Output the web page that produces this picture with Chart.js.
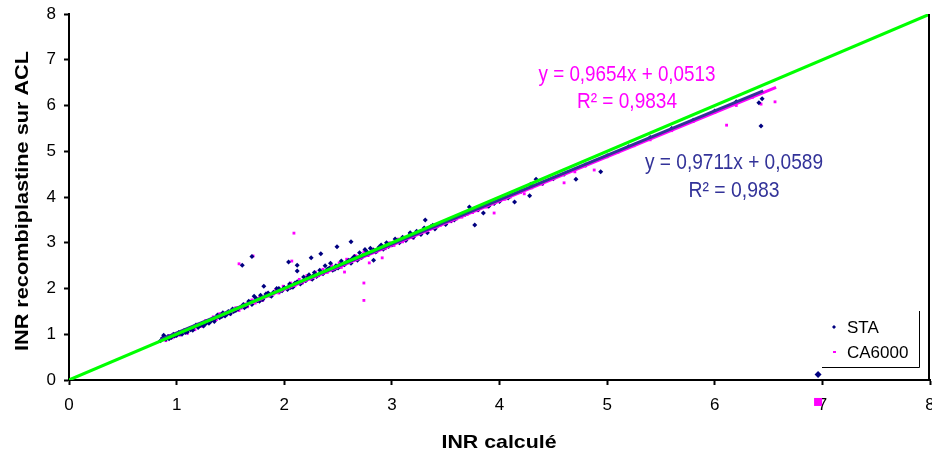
<!DOCTYPE html>
<html>
<head>
<meta charset="utf-8">
<script src="https://cdn.jsdelivr.net/npm/chart.js@4.4.0/dist/chart.umd.min.js"></script>
<style>
  html, body { margin: 0; padding: 0; background: #fff; }
</style>
</head>
<body>
<canvas id="graficoInr" width="932" height="456"></canvas>
<script>
// Valeurs (x = INR calculé, y = INR recombiplastine)
const ticksAxes = [0, 1, 2, 3, 4, 5, 6, 7, 8];

const staPoints = [
    [0.85, 0.86], [0.87, 0.92], [0.88, 0.98], [0.9, 0.89], [0.92, 0.95], [0.95, 0.93], [0.97, 1.0], [1.0, 0.97],
    [1.02, 1.04], [1.05, 1.0], [1.07, 1.08], [1.1, 1.05], [1.12, 1.12], [1.15, 1.09], [1.18, 1.2], [1.2, 1.15],
    [1.23, 1.22], [1.25, 1.18], [1.28, 1.27], [1.3, 1.24], [1.33, 1.33], [1.35, 1.28], [1.38, 1.42], [1.4, 1.36],
    [1.43, 1.47], [1.45, 1.4], [1.48, 1.5], [1.5, 1.45], [1.53, 1.5], [1.55, 1.52], [1.6, 1.6], [1.63, 1.58],
    [1.67, 1.72], [1.7, 1.65], [1.72, 1.83], [1.75, 1.73], [1.78, 1.85], [1.8, 1.76], [1.81, 2.05], [1.83, 1.88],
    [1.86, 1.85], [1.9, 1.92], [1.93, 2.0], [1.96, 1.94], [2.0, 2.02], [2.03, 1.98], [2.05, 2.1], [2.08, 2.03],
    [2.12, 2.15], [2.15, 2.1], [2.18, 2.25], [2.2, 2.17], [2.23, 2.3], [2.26, 2.2], [2.28, 2.35], [2.3, 2.26],
    [2.33, 2.4], [2.36, 2.32], [2.38, 2.5], [2.4, 2.42], [2.43, 2.55], [2.45, 2.4], [2.48, 2.5], [2.5, 2.45],
    [2.53, 2.6], [2.56, 2.52], [2.6, 2.62], [2.62, 2.55], [2.65, 2.7], [2.68, 2.62], [2.7, 2.78], [2.72, 2.68],
    [2.75, 2.85], [2.78, 2.75], [2.8, 2.88], [2.85, 2.8], [2.88, 2.9], [2.92, 2.86], [2.95, 3.0], [3.0, 2.95],
    [3.03, 3.08], [3.07, 3.0], [3.1, 3.12], [3.13, 3.05], [3.17, 3.19], [3.2, 3.12], [3.23, 3.25], [3.27, 3.18],
    [3.3, 3.32], [3.33, 3.22], [3.36, 3.35], [3.4, 3.3], [3.45, 3.42], [3.5, 3.4], [3.55, 3.48], [3.6, 3.55],
    [3.65, 3.6], [3.72, 3.78], [3.77, 3.39], [3.85, 3.65], [3.9, 3.8], [4.0, 3.9], [4.14, 3.89], [4.2, 4.12],
    [4.28, 4.03], [4.29, 4.28], [4.34, 4.39], [4.5, 4.4], [4.71, 4.39], [4.94, 4.55], [5.2, 5.1], [5.6, 5.5],
    [6.0, 5.88], [6.41, 6.06], [6.43, 5.55], [6.44, 6.15],
    [0.89, 0.94], [0.93, 0.9], [0.98, 0.96], [1.03, 1.01], [1.08, 1.04], [1.13, 1.1], [1.16, 1.16], [1.22, 1.19],
    [1.27, 1.23], [1.32, 1.29], [1.36, 1.35], [1.42, 1.39], [1.47, 1.44], [1.52, 1.55], [1.57, 1.55], [1.62, 1.65],
    [1.65, 1.62], [1.69, 1.7], [1.74, 1.78], [1.77, 1.72], [1.85, 1.9], [1.88, 1.83], [1.95, 2.0], [1.98, 1.95],
    [2.06, 2.02], [2.1, 2.12], [2.17, 2.15], [2.22, 2.25], [2.27, 2.28], [2.32, 2.3], [2.37, 2.36], [2.42, 2.45],
    [2.47, 2.42], [2.52, 2.52], [2.58, 2.58], [2.63, 2.65], [2.67, 2.66], [2.73, 2.72], [2.77, 2.8], [2.83, 2.84],
    [2.9, 2.95], [2.97, 2.92], [3.05, 3.04], [3.12, 3.1], [3.18, 3.14], [3.25, 3.22], [3.32, 3.27], [3.38, 3.38],
    [3.42, 3.36], [3.48, 3.45], [3.58, 3.5], [3.68, 3.62], [3.8, 3.72], [3.95, 3.86], [4.08, 3.98], [4.4, 4.3],
    [4.6, 4.5], [4.8, 4.7], [5.0, 4.9], [5.4, 5.3], [5.8, 5.68], [6.2, 6.08],
    [1.61, 2.51], [1.7, 2.7], [2.04, 2.58], [2.12, 2.51], [2.12, 2.38], [2.25, 2.67], [2.34, 2.76], [2.49, 2.91],
    [2.62, 3.02], [2.83, 2.62], [3.31, 3.5], [3.17, 3.22]
];

const ca6000Points = [
    [0.86, 0.9], [0.9, 0.86], [0.93, 0.97], [0.96, 0.92], [1.0, 1.02], [1.03, 0.98], [1.06, 1.06], [1.1, 1.02],
    [1.13, 1.14], [1.17, 1.1], [1.2, 1.22], [1.24, 1.17], [1.27, 1.3], [1.3, 1.25], [1.34, 1.38], [1.37, 1.32],
    [1.4, 1.45], [1.44, 1.4], [1.47, 1.48], [1.5, 1.44], [1.55, 1.58], [1.58, 1.52], [1.62, 1.62], [1.66, 1.6],
    [1.7, 1.75], [1.73, 1.68], [1.77, 1.8], [1.8, 1.74], [1.84, 1.9], [1.88, 1.84], [1.92, 1.97], [1.95, 1.9],
    [1.99, 2.05], [2.02, 2.0], [2.06, 2.12], [2.1, 2.06], [2.14, 2.2], [2.17, 2.12], [2.21, 2.28], [2.25, 2.2],
    [2.29, 2.36], [2.32, 2.28], [2.36, 2.42], [2.4, 2.35], [2.44, 2.5], [2.47, 2.44], [2.51, 2.56], [2.55, 2.5],
    [2.58, 2.64], [2.62, 2.57], [2.66, 2.72], [2.7, 2.65], [2.74, 2.8], [2.78, 2.72], [2.82, 2.86], [2.86, 2.8],
    [2.9, 2.92], [2.94, 2.87], [2.98, 3.0], [3.02, 2.94], [3.06, 3.08], [3.1, 3.02], [3.15, 3.14], [3.2, 3.1],
    [3.25, 3.2], [3.3, 3.24], [3.35, 3.3], [3.4, 3.34], [3.45, 3.38], [3.5, 3.42], [3.6, 3.52], [3.7, 3.62],
    [3.8, 3.7], [3.95, 3.65], [4.0, 3.9], [4.1, 4.0], [4.23, 4.07], [4.4, 4.28], [4.6, 4.31], [4.7, 4.55],
    [4.88, 4.59], [5.1, 4.98], [5.4, 5.25], [5.8, 5.65], [6.11, 5.57], [6.2, 6.0], [6.43, 6.03], [6.56, 6.08],
    [0.88, 0.88], [0.92, 0.93], [0.98, 0.95], [1.04, 1.03], [1.09, 1.08], [1.15, 1.12], [1.22, 1.2], [1.29, 1.27],
    [1.35, 1.35], [1.42, 1.42], [1.49, 1.46], [1.53, 1.53], [1.6, 1.57], [1.64, 1.66], [1.69, 1.7], [1.75, 1.73],
    [1.82, 1.83], [1.9, 1.88], [1.97, 1.98], [2.04, 2.05], [2.12, 2.1], [2.19, 2.2], [2.27, 2.27], [2.34, 2.35],
    [2.42, 2.41], [2.49, 2.5], [2.53, 2.46], [2.6, 2.6], [2.68, 2.7], [2.76, 2.76], [2.84, 2.82], [2.92, 2.9],
    [3.0, 2.97], [3.08, 3.04], [3.17, 3.12], [3.22, 3.18], [3.32, 3.27], [3.42, 3.36], [3.55, 3.46], [3.65, 3.56],
    [3.75, 3.66], [3.88, 3.78], [4.05, 3.95], [4.3, 4.2], [4.5, 4.4], [4.8, 4.68], [5.0, 4.88], [5.25, 5.12],
    [5.6, 5.45], [6.0, 5.85], [6.35, 6.18],
    [1.58, 2.54], [1.71, 2.71], [2.07, 2.6], [2.09, 3.21], [2.56, 2.36], [2.74, 2.12], [2.74, 1.74], [2.91, 2.67],
    [2.79, 2.56]
];

// points isolés près de x = 7 (le carré rose sort sous l'axe)
const staIsole = [[6.96, 0.12]];
const ca6000Isole = [[6.96, -0.48]];

// droite y = x et courbes de tendance (extrémités)
const droiteIdentite = [[0, 0], [8, 8]];
const tendanceSta = [[0.85, 0.884], [6.45, 6.322]];
const tendanceCa6000 = [[0.85, 0.872], [6.57, 6.394]];

const equationCa6000 = ['y = 0,9654x + 0,0513', 'R² = 0,9834'];
const equationSta = ['y = 0,9711x + 0,0589', 'R² = 0,983'];

const BLEU = '#000080';
const BLEU_TEXTE = '#333399';
const ROSE = '#FF00FF';
const VERT = '#00FF00';
const POLICE = 'Arial, "Liberation Sans"';

const versXY = (liste) => liste.map(([x, y]) => ({ x, y }));

// texte étiré ou comprimé pour tenir dans une largeur donnée
const texteAjuste = (ctx, texte, cx, cy, largeur, police, couleur, rotation = 0) => {
    ctx.save();
    ctx.font = police;
    ctx.fillStyle = couleur;
    ctx.textAlign = 'center';
    ctx.textBaseline = 'middle';
    const mesure = ctx.measureText(texte).width;
    ctx.translate(cx, cy);
    ctx.rotate(rotation);
    ctx.scale(largeur / mesure, 1);
    ctx.fillText(texte, 0, 0);
    ctx.restore();
};

const decor = {
    id: 'decor',
    afterDraw(chart) {
        const ctx = chart.ctx;
        const zone = chart.chartArea;
        const sx = chart.scales.x;
        const sy = chart.scales.y;

        // bord droit de la zone de traçage
        ctx.save();
        ctx.strokeStyle = '#000';
        ctx.lineWidth = 2;
        ctx.beginPath();
        ctx.moveTo(zone.right - 1, zone.top);
        ctx.lineTo(zone.right - 1, zone.bottom);
        ctx.stroke();
        ctx.restore();

        // carré rose hors zone (sous l'axe des x)
        ctx.save();
        ctx.fillStyle = ROSE;
        ca6000Isole.forEach(([x, y]) => {
            const px = sx.getPixelForValue(x);
            const py = sy.getPixelForValue(y);
            ctx.fillRect(px - 4, py - 4, 8, 8);
        });
        ctx.restore();

        // titres des axes
        texteAjuste(ctx, 'INR calculé', 499, 443, 115, 'bold 19px ' + POLICE, '#000');
        texteAjuste(ctx, 'INR recombiplastine sur ACL', 23, 201, 300, 'bold 19px ' + POLICE, '#000', -Math.PI / 2);

        // équations des tendances
        texteAjuste(ctx, equationCa6000[0], 627, 75, 177, '22px ' + POLICE, ROSE);
        texteAjuste(ctx, equationCa6000[1], 627, 102, 100, '22px ' + POLICE, ROSE);
        texteAjuste(ctx, equationSta[0], 734, 163, 178, '22px ' + POLICE, BLEU_TEXTE);
        texteAjuste(ctx, equationSta[1], 734, 191, 91, '22px ' + POLICE, BLEU_TEXTE);

        // légende
        ctx.save();
        ctx.strokeStyle = '#000';
        ctx.lineWidth = 1;
        ctx.beginPath();
        ctx.moveTo(919.5, 311);
        ctx.lineTo(919.5, 367.5);
        ctx.lineTo(822, 367.5);
        ctx.stroke();

        ctx.fillStyle = BLEU;
        ctx.beginPath();
        ctx.moveTo(834, 325);
        ctx.lineTo(836, 327);
        ctx.lineTo(834, 329);
        ctx.lineTo(832, 327);
        ctx.closePath();
        ctx.fill();
        ctx.fillStyle = ROSE;
        ctx.fillRect(833, 351, 3, 2);

        ctx.fillStyle = '#000';
        ctx.font = '17px ' + POLICE;
        ctx.textAlign = 'left';
        ctx.textBaseline = 'middle';
        ctx.fillText('STA', 847, 328);
        ctx.fillText('CA6000', 847, 353);
        ctx.restore();
    }
};

const ctx = document.getElementById('graficoInr').getContext('2d');

const axeCommun = {
    type: 'linear',
    min: ticksAxes[0],
    max: ticksAxes[ticksAxes.length - 1],
    afterBuildTicks: (scale) => { scale.ticks = ticksAxes.map(v => ({ value: v })); },
    grid: {
        drawOnChartArea: false,
        drawTicks: true,
        tickLength: 5,
        tickColor: '#000',
        tickWidth: 2
    },
    border: { color: '#000', width: 2 },
    title: { display: false }
};

new Chart(ctx, {
    type: 'scatter',
    data: {
        datasets: [
            {
                label: 'y = x',
                data: versXY(droiteIdentite),
                showLine: true,
                borderColor: VERT,
                borderWidth: 3,
                pointRadius: 0,
                order: 1
            },
            {
                label: 'Tendance STA',
                data: versXY(tendanceSta),
                showLine: true,
                borderColor: BLEU_TEXTE,
                borderWidth: 3,
                pointRadius: 0,
                order: 2
            },
            {
                label: 'Tendance CA6000',
                data: versXY(tendanceCa6000),
                showLine: true,
                borderColor: ROSE,
                borderWidth: 3,
                pointRadius: 0,
                order: 3
            },
            {
                label: 'STA',
                data: versXY(staPoints),
                pointStyle: 'rectRot',
                pointRadius: 2.5,
                backgroundColor: BLEU,
                borderColor: BLEU,
                borderWidth: 0,
                order: 4
            },
            {
                label: 'CA6000',
                data: versXY(ca6000Points),
                pointStyle: 'rect',
                pointRadius: 2,
                backgroundColor: ROSE,
                borderColor: ROSE,
                borderWidth: 0,
                order: 5
            },
            {
                label: 'STA isolé',
                data: versXY(staIsole),
                pointStyle: 'rectRot',
                pointRadius: 3.5,
                backgroundColor: BLEU,
                borderColor: BLEU,
                borderWidth: 0,
                clip: false,
                order: 6
            }
        ]
    },
    options: {
        responsive: false,
        animation: false,
        layout: { autoPadding: false, padding: { top: 14, right: 2, left: 0, bottom: 0 } },
        plugins: {
            legend: { display: false },
            tooltip: { enabled: false }
        },
        scales: {
            x: {
                ...axeCommun,
                // zone de traçage fixe : pas de marge réservée aux étiquettes extrêmes
                afterFit: (scale) => { scale.height = 76; scale.paddingLeft = 0; scale.paddingRight = 0; },
                ticks: {
                    color: '#000',
                    font: { family: POLICE, size: 17 },
                    padding: 10,
                    maxRotation: 0
                }
            },
            y: {
                ...axeCommun,
                afterFit: (scale) => { scale.width = 69; scale.paddingTop = 0; scale.paddingBottom = 0; },
                ticks: {
                    color: '#000',
                    font: { family: POLICE, size: 17 },
                    padding: 8
                }
            }
        }
    },
    plugins: [decor]
});
</script>
</body>
</html>
